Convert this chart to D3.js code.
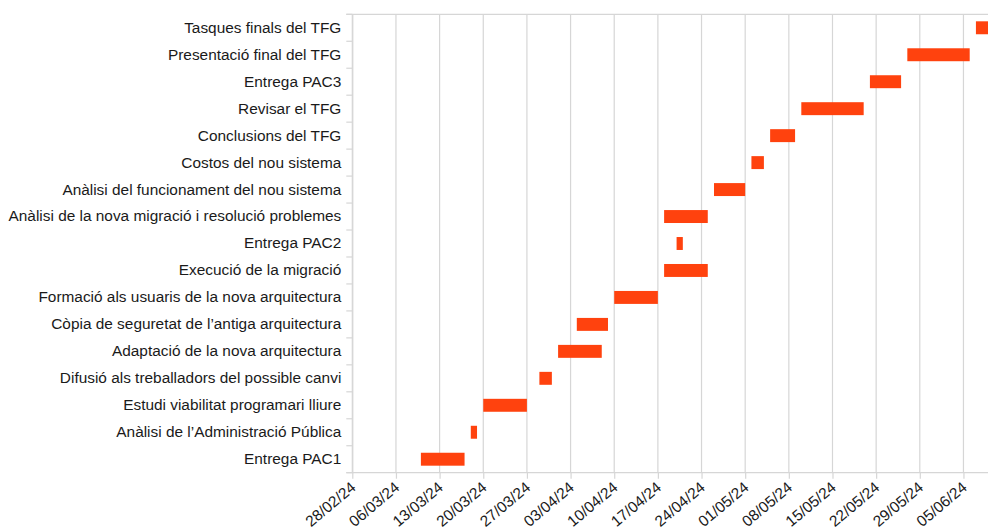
<!DOCTYPE html>
<html>
<head>
<meta charset="utf-8">
<script src="https://cdn.jsdelivr.net/npm/d3@7/dist/d3.min.js"></script>
<style>
  html, body { margin: 0; padding: 0; background: #fff; }
  svg { display: block; }
  text { font-family: "Liberation Sans", Arial, sans-serif; fill: #1a1a1a; }
</style>
</head>
<body>
<svg id="chart" width="988" height="529"></svg>
<script>
// Tasks, top to bottom
const tasks = [
  "Tasques finals del TFG",
  "Presentació final del TFG",
  "Entrega PAC3",
  "Revisar el TFG",
  "Conclusions del TFG",
  "Costos del nou sistema",
  "Anàlisi del funcionament del nou sistema",
  "Anàlisi de la nova migració i resolució problemes",
  "Entrega PAC2",
  "Execució de la migració",
  "Formació als usuaris de la nova arquitectura",
  "Còpia de seguretat de l’antiga arquitectura",
  "Adaptació de la nova arquitectura",
  "Difusió als treballadors del possible canvi",
  "Estudi viabilitat programari lliure",
  "Anàlisi de l’Administració Pública",
  "Entrega PAC1"
];
const startDates = [
  "2024-06-07", "2024-05-27", "2024-05-21", "2024-05-10", "2024-05-05",
  "2024-05-02", "2024-04-26", "2024-04-18", "2024-04-20", "2024-04-18",
  "2024-04-10", "2024-04-04", "2024-04-01", "2024-03-29", "2024-03-20",
  "2024-03-18", "2024-03-10"
];
const endDates = [
  "2024-06-14", "2024-06-06", "2024-05-26", "2024-05-20", "2024-05-09",
  "2024-05-04", "2024-05-01", "2024-04-25", "2024-04-21", "2024-04-25",
  "2024-04-17", "2024-04-09", "2024-04-08", "2024-03-31", "2024-03-27",
  "2024-03-19", "2024-03-17"
];
const axisStart = "2024-02-28";
const axisEnd = "2024-06-09";
const tickDates = [
  "2024-02-28", "2024-03-06", "2024-03-13", "2024-03-20", "2024-03-27",
  "2024-04-03", "2024-04-10", "2024-04-17", "2024-04-24", "2024-05-01",
  "2024-05-08", "2024-05-15", "2024-05-22", "2024-05-29", "2024-06-05"
];

const parse = d3.utcParse("%Y-%m-%d");
const fmt = d3.utcFormat("%d/%m/%y");

const svg = d3.select("#chart");
const mLeft = 352.3, mRight = 988.4, mTop = 14.3, mBottom = 472.7;

const x = d3.scaleUtc().domain([parse(axisStart), parse(axisEnd)]).range([mLeft, mRight]);
const y = d3.scaleBand().domain(tasks).range([mTop, mBottom]).paddingInner(0.52).paddingOuter(0.26);
const yb = d3.scaleBand().domain(tasks).range([mTop, mBottom]);

const gridColor = "#d6d6d6";
const fontSize = 15.4;

// vertical gridlines
svg.append("g").selectAll("line").data(tickDates).join("line")
  .attr("x1", d => x(parse(d))).attr("x2", d => x(parse(d)))
  .attr("y1", mTop).attr("y2", mBottom)
  .attr("stroke", gridColor).attr("stroke-width", 1.2);

// top line
svg.append("line").attr("x1", mLeft - 6).attr("x2", 988).attr("y1", mTop).attr("y2", mTop)
  .attr("stroke", gridColor).attr("stroke-width", 1.2);

// bars
const data = tasks.map((t, i) => ({ t, s: parse(startDates[i]), e: parse(endDates[i]) }));
svg.append("g").selectAll("rect").data(data).join("rect")
  .attr("x", d => x(d.s))
  .attr("width", d => x(d.e) - x(d.s))
  .attr("y", d => y(d.t))
  .attr("height", y.bandwidth())
  .attr("fill", "#ff420e");

// x axis
const xAxis = d3.axisBottom(x).tickValues(tickDates.map(parse)).tickFormat(fmt).tickSize(6).tickSizeOuter(0);
const gx = svg.append("g").attr("transform", `translate(0,${mBottom})`).call(xAxis);
gx.select(".domain").remove();
gx.append("line").attr("x1", mLeft - 6).attr("x2", 988).attr("y1", 0).attr("y2", 0)
  .attr("stroke", gridColor).attr("stroke-width", 1.2);
gx.selectAll(".tick line").attr("stroke", gridColor).attr("stroke-width", 1.2);
gx.selectAll(".tick text")
  .attr("font-size", fontSize)
  .attr("fill", "#1a1a1a")
  .attr("text-anchor", "end")
  .attr("transform", "translate(-3,8) rotate(-40)")
  .attr("dy", "0.71em")
  .attr("x", 0).attr("y", 0);

// y axis
const yAxis = d3.axisLeft(yb).tickSize(0).tickPadding(11);
const gy = svg.append("g").attr("transform", `translate(${mLeft},0)`).call(yAxis);
gy.select(".domain").attr("stroke", gridColor).attr("stroke-width", 1.2);
gy.selectAll(".tick text").attr("font-size", fontSize).attr("fill", "#1a1a1a");
// band boundary ticks
const bounds = d3.range(tasks.length + 1).map(i => mTop + i * yb.step());
gy.append("g").selectAll("line").data(bounds).join("line")
  .attr("x1", -6).attr("x2", 0).attr("y1", d => d).attr("y2", d => d)
  .attr("stroke", gridColor).attr("stroke-width", 1.2);
</script>
</body>
</html>
